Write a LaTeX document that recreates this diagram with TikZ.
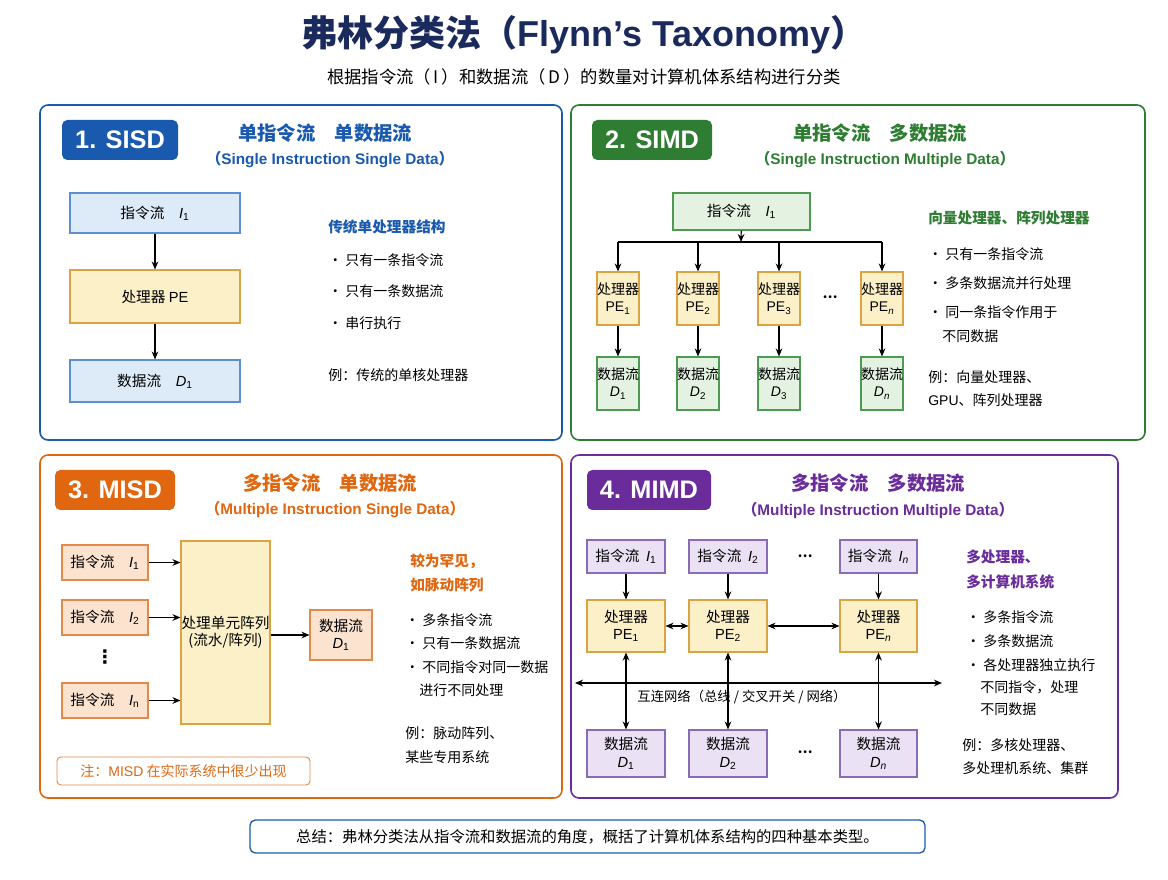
\documentclass[tikz,border=0pt]{standalone}
\usepackage{fontspec}
\setmainfont{Noto Sans CJK SC}
\newfontfamily\lat{Liberation Sans}
\newfontfamily\dvs{DejaVu Sans}
\usetikzlibrary{arrows.meta}
\definecolor{navy}{HTML}{1B2A5C}
\definecolor{cblue}{HTML}{1A5AAE}
\definecolor{cgreen}{HTML}{2E7D32}
\definecolor{corange}{HTML}{E0670F}
\definecolor{cpurple}{HTML}{6A2C9A}
\definecolor{lblue}{HTML}{DDEAF8}\definecolor{bblue}{HTML}{5B8FD0}
\definecolor{lyel}{HTML}{FCF0C8}\definecolor{byel}{HTML}{D9A441}
\definecolor{lgreen}{HTML}{E4F2E2}\definecolor{bgreen}{HTML}{4E9A52}
\definecolor{lorange}{HTML}{FBE3D0}\definecolor{borange}{HTML}{E38A4A}
\definecolor{lpurple}{HTML}{EAE2F4}\definecolor{bpurple}{HTML}{8A6BB8}
\newcommand{\sv}[2]{{\lat\itshape #1}\textsubscript{\lat #2}}
\newcommand{\svn}[2]{{\lat #1}\textsubscript{\lat #2}}
\newcommand{\bx}[7]{\node[#2,minimum width={(#5-#3)*0.75pt},minimum height={(#6-#4)*0.75pt}] (#1) at ({(#3+#5)/2},{(#4+#6)/2}) {#7};}
\begin{document}
\begin{tikzpicture}[x=0.75pt,y=-0.75pt,
 box/.style={draw,inner sep=0pt,align=center,font=\fontsize{11}{13}\selectfont,line width=0.8pt},
 bb/.style={box,fill=lblue,draw=bblue},
 yb/.style={box,fill=lyel,draw=byel},
 gb/.style={box,fill=lgreen,draw=bgreen},
 ob/.style={box,fill=lorange,draw=borange},
 pb/.style={box,fill=lpurple,draw=bpurple},
 panel/.style={draw,rounded corners=6pt,line width=1.2pt,fill=white},
 badge/.style={rounded corners=4pt,inner sep=0pt,text=white,font=\lat\bfseries\fontsize{19}{22}\selectfont},
 ttl/.style={font=\bfseries\fontsize{14.5}{17}\selectfont},
 sub/.style={font=\bfseries\fontsize{11.5}{14}\selectfont},
 txt/.style={anchor=west,inner sep=0pt,font=\fontsize{10.5}{13}\selectfont},
 arr/.style={-{Stealth[length=6pt,width=5pt]},line width=0.9pt},
 darr/.style={{Stealth[length=6pt,width=5pt]}-{Stealth[length=6pt,width=5pt]},line width=0.9pt}]
\useasboundingbox (0,0) rectangle (1168,880);
\node[text=navy,font=\bfseries\fontsize{27}{30}\selectfont] (title) at (584,35) {弗林分类法（{\lat Flynn’s Taxonomy}）};
\node[font=\fontsize{13}{15}\selectfont] (subt) at (584,77) {根据指令流（\,I\,）和数据流（\,D\,）的数量对计算机体系结构进行分类};
% panels
\draw[panel,draw=cblue] (40,105) rectangle (562,440);
\draw[panel,draw=cgreen] (571,105) rectangle (1145,440);
\draw[panel,draw=corange] (40,455) rectangle (562,798);
\draw[panel,draw=cpurple] (571,455) rectangle (1118,798);
% Panel 1
\bx{bd1}{badge,fill=cblue}{62}{120}{178}{160}{1. SISD}
\node[ttl,text=cblue] (t1) at (325,133) {单指令流\quad 单数据流};
\node[sub,text=cblue] (s1) at (330,160) {（{\lat Single Instruction Single Data}）};
\bx{si}{bb}{70}{193}{240}{233}{指令流\quad\sv{I}{1}}
\bx{spe}{yb}{70}{270}{240}{323}{处理器 {\lat PE}}
\bx{sd}{bb}{70}{360}{240}{402}{数据流\quad\sv{D}{1}}
\draw[arr] (si) -- (spe); \draw[arr] (spe) -- (sd);
\node[txt,text=cblue,font=\bfseries\fontsize{11}{13}\selectfont] (p1h) at (328,227) {传统单处理器结构};
\node[txt] (p1a) at (328,260) {•\ 只有一条指令流};
\node[txt] (p1b) at (328,291) {•\ 只有一条数据流};
\node[txt] (p1c) at (328,323) {•\ 串行执行};
\node[txt] (p1d) at (328,375) {例：传统的单核处理器};
% Panel 2
\bx{bd2}{badge,fill=cgreen}{592}{120}{712}{160}{2. SIMD}
\node[ttl,text=cgreen] (t2) at (880,133) {单指令流\quad 多数据流};
\node[sub,text=cgreen] (s2) at (885,160) {（{\lat Single Instruction Multiple Data}）};
\bx{mi}{gb}{673}{193}{810}{230}{指令流\quad\sv{I}{1}}
\coordinate (bc) at (741,242); \coordinate (bl) at (618,242); \coordinate (br) at (882,242);
\draw[arr] (mi) -- (bc); \draw[line width=0.9pt] (bl) -- (br);
\foreach \n/\x/\s in {1/618/1,2/698/2,3/779/3,4/882/{\itshape n}}{
 \bx{mp\n}{yb,font=\fontsize{10.5}{13}\selectfont}{\x-31}{272}{\x+31}{325}{处理器\\\svn{PE}{\s}}
 \bx{md\n}{gb,font=\fontsize{10.5}{13}\selectfont}{\x-32}{357}{\x+32}{410}{数据流\\{\lat\itshape D}\textsubscript{\lat\s}}
 \draw[arr] (\x,242) -- (mp\n);
 \draw[arr] (mp\n) -- (md\n);
}
\node[font=\bfseries] (dots2) at (830,297) {…};
\node[txt,text=cgreen,font=\bfseries\fontsize{11}{13}\selectfont] (p2h) at (928,218) {向量处理器、阵列处理器};
\node[txt] (p2a) at (928,254) {•\ 只有一条指令流};
\node[txt] (p2b) at (928,283) {•\ 多条数据流并行处理};
\node[txt] (p2c) at (928,312) {•\ 同一条指令作用于};
\node[txt] (p2d) at (942,336) {不同数据};
\node[txt] (p2e) at (928,377) {例：向量处理器、};
\node[txt] (p2f) at (928,400) {{\lat GPU}、阵列处理器};
% Panel 3
\bx{bd3}{badge,fill=corange}{55}{470}{175}{510}{3. MISD}
\node[ttl,text=corange] (t3) at (330,483) {多指令流\quad 单数据流};
\node[sub,text=corange] (s3) at (335,510) {（{\lat Multiple Instruction Single Data}）};
\bx{oi1}{ob}{62}{545}{148}{580}{指令流\quad\sv{I}{1}}
\bx{oi2}{ob}{62}{600}{148}{635}{指令流\quad\sv{I}{2}}
\bx{oin}{ob}{62}{683}{148}{718}{指令流\quad\sv{I}{n}}
\node[font=\dvs\bfseries\fontsize{14}{14}\selectfont,inner sep=0pt] (vd) at (105,657) {⋮};
\bx{oa}{yb}{181}{541}{270}{724}{处理单元阵列\\(流水/阵列)}
\bx{od}{ob}{310}{610}{372}{660}{数据流\\\sv{D}{1}}
\foreach \i in {oi1,oi2,oin}{\draw[arr] (\i.east) -- (\i.east -| oa.west);}
\draw[arr] (oa.east |- od) -- (od);
\node[txt,text=corange,font=\bfseries\fontsize{11}{13}\selectfont] (p3h) at (410,561) {较为罕见，};
\node[txt,text=corange,font=\bfseries\fontsize{11}{13}\selectfont] (p3i) at (410,585) {如脉动阵列};
\node[txt] (p3a) at (405,620) {•\ 多条指令流};
\node[txt] (p3b) at (405,643) {•\ 只有一条数据流};
\node[txt] (p3c) at (405,667) {•\ 不同指令对同一数据};
\node[txt] (p3d) at (419,690) {进行不同处理};
\node[txt] (p3e) at (405,733) {例：脉动阵列、};
\node[txt] (p3f) at (405,757) {某些专用系统};
\bx{note}{box,draw=borange,rounded corners=3pt,line width=0.7pt,text=corange,font=\fontsize{10.5}{13}\selectfont}{57}{757}{310}{785}{注：{\lat MISD} 在实际系统中很少出现}
% Panel 4
\bx{bd4}{badge,fill=cpurple}{587}{470}{711}{510}{4. MIMD}
\node[ttl,text=cpurple] (t4) at (878,483) {多指令流\quad 多数据流};
\node[sub,text=cpurple] (s4) at (878,510) {（{\lat Multiple Instruction Multiple Data}）};
\foreach \n/\a/\b/\s in {1/587/665/1,2/689/767/2,3/840/917/{\itshape n}}{
 \bx{pi\n}{pb}{\a}{540}{\b}{573}{指令流\ \ {\lat\itshape I}\textsubscript{\lat\s}}
 \bx{pp\n}{yb}{\a}{600}{\b}{652}{处理器\\\svn{PE}{\s}}
 \bx{pd\n}{pb}{\a}{730}{\b}{777}{数据流\\{\lat\itshape D}\textsubscript{\lat\s}}
 \draw[arr] (pi\n) -- (pp\n);
 \draw[darr] (pp\n) -- (pd\n);
}
\node[font=\bfseries] (dots4a) at (805,556) {…};
\node[font=\bfseries] (dots4b) at (805,752) {…};
\draw[darr] (pp1) -- (pp2); \draw[darr] (pp2) -- (pp3);
\coordinate (nl) at (575,683); \coordinate (nr) at (942,683);
\draw[darr] (nl) -- (nr);
\node[font=\fontsize{10}{12}\selectfont,inner sep=1pt] (netl) at (742,697) {互连网络（总线 / 交叉开关 / 网络）};
\node[txt,text=cpurple,font=\bfseries\fontsize{11}{13}\selectfont] (p4h) at (966,557) {多处理器、};
\node[txt,text=cpurple,font=\bfseries\fontsize{11}{13}\selectfont] (p4i) at (966,582) {多计算机系统};
\node[txt] (p4a) at (966,617) {•\ 多条指令流};
\node[txt] (p4b) at (966,641) {•\ 多条数据流};
\node[txt] (p4c) at (966,665) {•\ 各处理器独立执行};
\node[txt] (p4d) at (980,687) {不同指令，处理};
\node[txt] (p4e) at (980,709) {不同数据};
\node[txt] (p4f) at (962,745) {例：多核处理器、};
\node[txt] (p4g) at (962,768) {多处理机系统、集群};
% bottom
\bx{sum}{box,draw=cblue,rounded corners=4pt,line width=1pt,font=\fontsize{11.5}{14}\selectfont}{250}{820}{925}{853}{总结：弗林分类法从指令流和数据流的角度，概括了计算机体系结构的四种基本类型。}
\end{tikzpicture}
\end{document}
